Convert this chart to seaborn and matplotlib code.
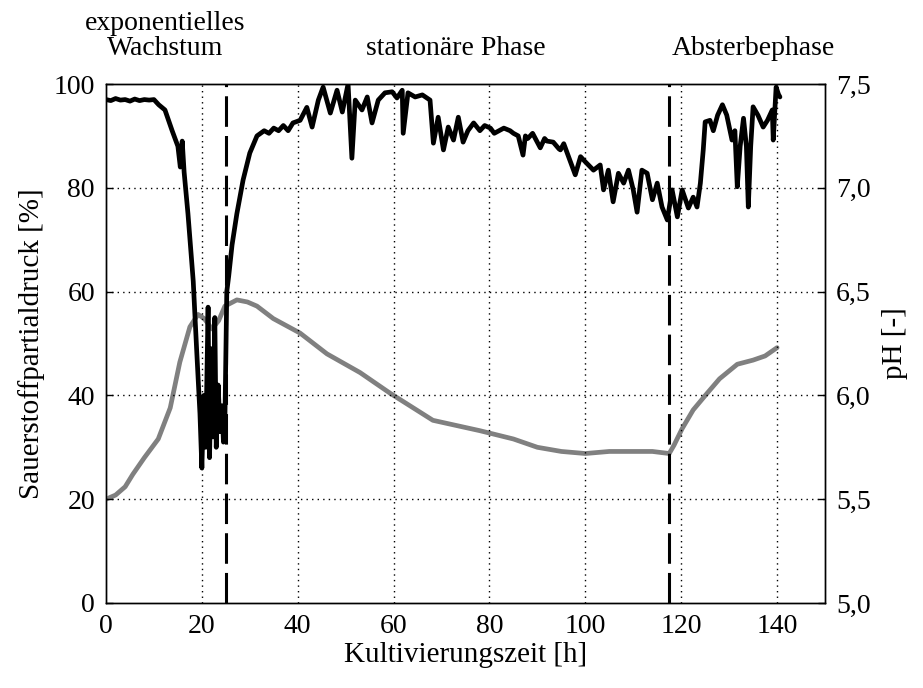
import matplotlib
matplotlib.use("Agg")
import matplotlib.pyplot as plt
import seaborn as sns
import pandas as pd
from matplotlib.ticker import FuncFormatter

# Dissolved oxygen (left axis, %)
do_time = [0, 1, 2, 3, 4, 5, 6, 7, 8, 9, 10, 11, 12.3, 13.8, 15, 15.5, 15.9, 16.3, 17.1, 18.2,
           18.9, 19.6, 20.0, 20.4, 20.8, 21.3, 21.6, 22.0, 22.3, 22.7, 23.0, 23.4, 23.8, 24.2,
           24.5, 24.8, 25.2, 25.6, 26.3, 27.3, 28.6, 30, 31.5, 33, 34, 35, 36, 37, 38, 39,
           40.5, 41.9, 43, 44.3, 45.3, 46.8, 48.2, 49.3, 50.5, 51.3, 52, 53.4, 54.5, 55.5,
           56.8, 58.2, 59.7, 60.7, 61.8, 62, 63, 64.5, 66, 67.6, 68.3, 69.3, 70.4, 71.4, 72.5,
           73.5, 74.5, 75.5, 76.7, 78, 79, 80.2, 81, 82, 83, 84.3, 85, 86, 87, 87.5, 88, 89,
           90.6, 91.5, 92, 93.3, 94.5, 94.8, 95.5, 97.9, 99, 100, 101.7, 103.1, 103.8, 104.8,
           105.8, 106.9, 108, 109, 110, 110.8, 111.8, 112.9, 114, 115, 116, 117.1, 118.1,
           119.2, 120.2, 121.5, 122.5, 123.3, 124, 124.6, 125, 126, 126.7, 127.6, 128.6,
           129.5, 130.6, 131.2, 131.7, 132.3, 133, 133.6, 134, 134.5, 135, 136, 137.1, 138,
           139, 139.2, 139.8, 140.3, 140.6]
do_value = [97, 96.8, 97.2, 96.9, 97, 96.7, 97.1, 96.8, 97, 96.9, 97, 96, 95, 91, 88, 84, 89, 83, 75, 62,
            49, 36.5, 26, 40, 30, 57, 28, 49, 32, 55, 30, 42, 33, 38,
            31, 35, 60, 63, 69, 75, 81.5, 86.7, 90, 91, 90.5, 91.5, 91, 92, 91, 92.5,
            93, 95.5, 91.7, 96.9, 99.4, 94.4, 98.8, 94.6, 100, 85.7, 96.9, 95, 97.5, 92.5,
            96.9, 98.3, 98.5, 97.3, 98.8, 90.5, 98.3, 97.5, 97.9, 96.9, 88.6, 93.6, 87.3, 91.7, 89.2,
            93.6, 88.8, 91, 92.5, 91, 92, 91.5, 90.5, 91, 91.5, 91, 90.5, 90, 86.3, 90, 89.5, 90.5,
            87.7, 89.5, 89, 88.8, 87.5, 87.3, 88.5, 82.5, 86, 85, 83.4, 84.4, 79.6, 83.4,
            77.3, 82.8, 80.9, 83.4, 79.6, 75.3, 83.4, 82.8, 77.7, 80.9, 76.3, 73.8, 79.6,
            74.4, 79.6, 76.1, 78.2, 76.3, 80.9, 87.3, 92.7, 93, 91, 94, 96,
            94, 89.2, 91, 80.2, 88, 93.4, 88, 76.3, 88, 95.6, 94, 91.7, 93,
            95, 89.2, 99.4, 98, 97.5]

# pH (right axis)
ph_time = [0, 2, 4, 5.6, 8, 10.9, 13.4, 15.4, 17.5, 19.2, 20.5, 22.1, 23.5, 24.8, 27.3, 29.5,
           31.5, 34.9, 40.5, 46.1, 53, 59.3, 68.2, 78, 85, 90, 95, 100, 105, 110, 114, 117.5,
           118.5, 120.2, 122.5, 125.4, 128, 131.7, 135, 137.5, 140]
ph_value = [5.5, 5.52, 5.56, 5.62, 5.7, 5.79, 5.94, 6.16, 6.33, 6.39, 6.37, 6.32, 6.36, 6.43, 6.46, 6.45,
            6.43, 6.37, 6.30, 6.20, 6.11, 6.01, 5.88, 5.83, 5.79, 5.75, 5.73, 5.72, 5.73, 5.73, 5.73, 5.72,
            5.76, 5.84, 5.93, 6.01, 6.08, 6.15, 6.17, 6.19, 6.23]

phase_lines = [25, 117.5]
x_ticks = [0, 20, 40, 60, 80, 100, 120, 140]
left_ticks = [0, 20, 40, 60, 80, 100]
right_ticks = [5.0, 5.5, 6.0, 6.5, 7.0, 7.5]

sns.set_theme(style="white")
plt.rcParams['font.family'] = ['Liberation Serif', 'DejaVu Serif']

fig = plt.figure(figsize=(9.23, 6.88), dpi=100)
ax = fig.add_axes([106/923, 1-603/688, 719/923, 519/688])
ax2 = ax.twinx()

df_do = pd.DataFrame({"t": do_time, "v": do_value})
df_ph = pd.DataFrame({"t": ph_time, "v": ph_value})

sns.lineplot(data=df_ph, x="t", y="v", ax=ax2, color="#808080", linewidth=3.4, zorder=3)
sns.lineplot(data=df_do, x="t", y="v", ax=ax, color="black", linewidth=3.4, zorder=4)

ax.set_zorder(ax2.get_zorder() + 1)
ax.patch.set_visible(False)

ax.set_xlim(0, 150)
ax.set_ylim(0, 100)
ax2.set_ylim(5.0, 7.5)
ax.set_xticks(x_ticks)
ax.set_yticks(left_ticks)
ax2.set_yticks(right_ticks)
ax2.yaxis.set_major_formatter(FuncFormatter(lambda v, p: f"{v:.1f}".replace(".", ",")))

for xv in x_ticks[1:]:
    ax.axvline(xv, color="black", linestyle=(0, (1, 3)), linewidth=1.0, zorder=1)
for yv in left_ticks[1:-1]:
    ax.axhline(yv, color="black", linestyle=(0, (1, 3)), linewidth=1.0, zorder=1)
for xv in phase_lines:
    ax.axvline(xv, color="black", linestyle=(0, (10, 3)), linewidth=2.2, zorder=5)

for a in (ax, ax2):
    for s in a.spines.values():
        s.set_color("black")
        s.set_linewidth(1.0)
    a.tick_params(direction="in", length=5, width=1, colors="black", labelsize=20, pad=8)
    a.grid(False)

ax.set_xlabel("Kultivierungszeit [h]", fontsize=21, color="black", labelpad=2)
ax.set_ylabel("Sauerstoffpartialdruck [%]", fontsize=21, color="black", labelpad=6)
ax2.set_ylabel("pH [-]", fontsize=21, color="black", rotation=90, labelpad=8)
ax2.yaxis.set_label_position("right")

base = (603 - 55) / 519
ax.text(12.3, base, "exponentielles\nWachstum", transform=ax.get_xaxis_transform(),
        ha="center", va="baseline", fontsize=20, color="black", linespacing=1.0,
        multialignment="center")
ax.text(73, base, "stationäre Phase", transform=ax.get_xaxis_transform(),
        ha="center", va="baseline", fontsize=20, color="black")
ax.text(135, base, "Absterbephase", transform=ax.get_xaxis_transform(),
        ha="center", va="baseline", fontsize=20, color="black")

fig.savefig("out.png", dpi=100)
